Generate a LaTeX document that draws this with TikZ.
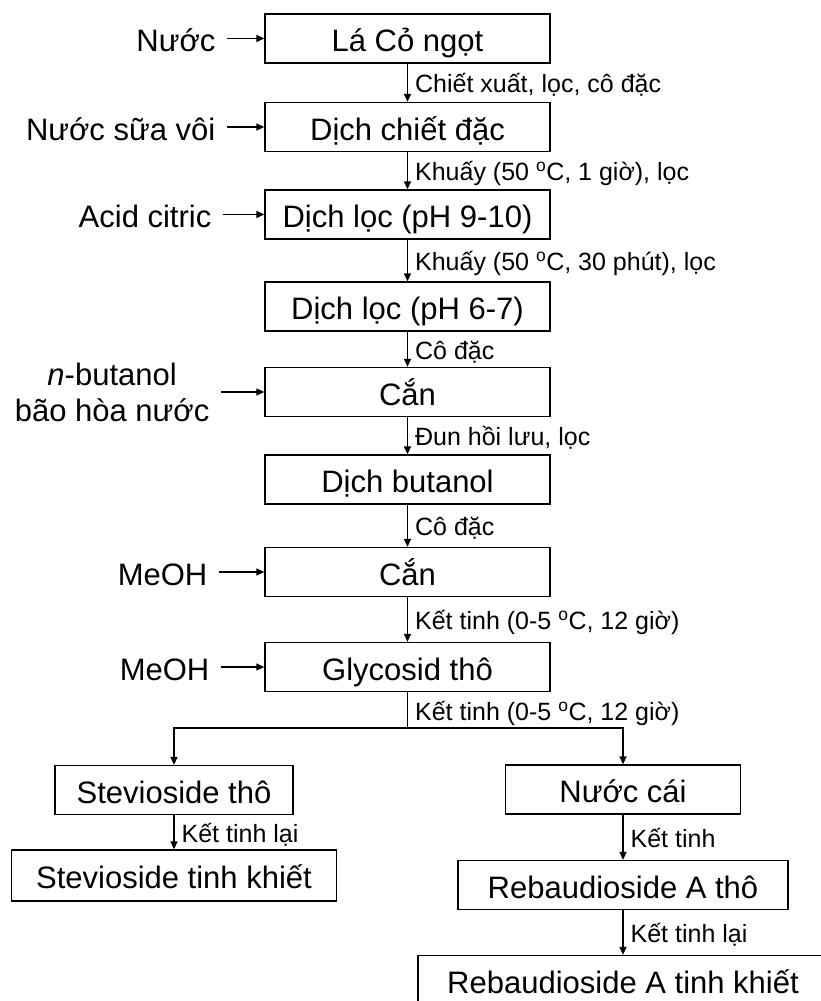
\documentclass[tikz,border=0pt]{standalone}
\usepackage{fontspec}
\setmainfont{Liberation Sans}
\usetikzlibrary{arrows.meta}

\tikzset{
  stage/.style={shape=rectangle,draw,inner sep=0pt,minimum height=49pt,
    text height=31pt,text depth=4.6pt,font=\fontsize{31}{36}\selectfont},
  main/.style={stage,minimum width=285pt},
  feed/.style={anchor=east,inner sep=11pt,align=center,font=\fontsize{31}{36}\selectfont},
  feedline/.style={feed,text height=31pt,text depth=4.6pt},
  cond/.style={anchor=west,inner sep=7pt,text height=24pt,text depth=3.6pt,
    font=\fontsize{25}{30}\selectfont}
}

\begin{document}
\begin{tikzpicture}[x=1pt,y=-1pt,line width=1.3pt,>={Triangle[length=8pt,width=7pt]}]
\useasboundingbox (0,0) rectangle (820,1001);

\node(la)   at (407.5,38.5)[main]  {Lá Cỏ ngọt};
\node(dc)   at (407.5,127)[main]   {Dịch chiết đặc};
\node(dl9)  at (407.5,214.5)[main] {Dịch lọc (pH 9-10)};
\node(dl6)  at (407.5,306.5)[main] {Dịch lọc (pH 6-7)};
\node(can1) at (407.5,392)[main]   {Cắn};
\node(dbu)  at (407.5,479.5)[main] {Dịch butanol};
\node(can2) at (407.5,572)[main]   {Cắn};
\node(gly)  at (407.5,667)[main]   {Glycosid thô};
\coordinate(split) at (407.5,728);

\node(stt) at (174,790)[stage,minimum width=238pt]                    {Stevioside thô};
\node(stk) at (174,875.5)[stage,minimum width=325pt,minimum height=51pt] {Stevioside tinh khiết};
\node(nc)  at (623,789.5)[stage,minimum width=235pt]                  {Nước cái};
\node(rat) at (623,885)[stage,minimum width=330pt]                    {Rebaudioside A thô};
\node(rak) at (623,980)[stage,minimum width=410pt]                    {Rebaudioside A tinh khiết};

% inputs
\node(nuoc) at (227,38.5)[feedline]  {Nước};
\node(voi)  at (227,127)[feedline]   {Nước sữa vôi};
\node(acid) at (223,214.5)[feedline] {Acid citric};
\node(buoh) at (221,392)[feed]       {\textit{n}-butanol\\bão hòa nước};
\node(me1)  at (219,572)[feedline]   {MeOH};
\node(me2)  at (221,667)[feedline]   {MeOH};

\path [->]
  (nuoc) edge (la)
  (voi)  edge (dc)
  (acid) edge (dl9)
  (buoh) edge (can1)
  (me1)  edge (can2)
  (me2)  edge (gly)
  (la)   edge node [cond] {Chiết xuất, lọc, cô đặc} (dc)
  (dc)   edge node [cond] {Khuấy (50 \textsuperscript{o}C, 1 giờ), lọc} (dl9)
  (dl9)  edge node [cond] {Khuấy (50 \textsuperscript{o}C, 30 phút), lọc} (dl6)
  (dl6)  edge node [cond] {Cô đặc} (can1)
  (can1) edge node [cond] {Đun hồi lưu, lọc} (dbu)
  (dbu)  edge node [cond] {Cô đặc} (can2)
  (can2) edge node [cond] {Kết tinh (0-5 \textsuperscript{o}C, 12 giờ)} (gly)
  (stt)  edge node [cond] {Kết tinh lại} (stk)
  (nc)   edge node [cond] {Kết tinh} (rat)
  (rat)  edge node [cond] {Kết tinh lại} (rak);

\draw (gly) -- node [cond] {Kết tinh (0-5 \textsuperscript{o}C, 12 giờ)} (split);
\draw [->] (split) -| (stt);
\draw [->] (split) -| (nc);

\end{tikzpicture}
\end{document}
